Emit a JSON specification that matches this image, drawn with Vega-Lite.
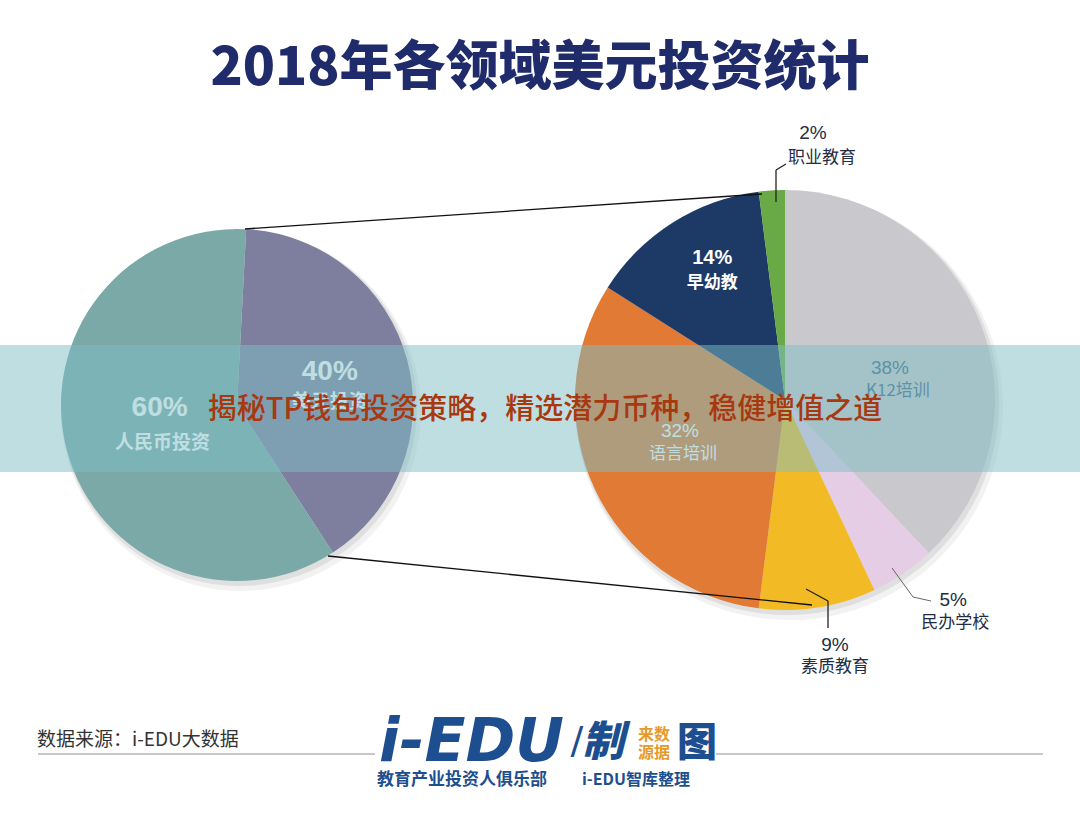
{
  "$schema": "https://vega.github.io/schema/vega-lite/v6.json",
  "width": 1080,
  "height": 819,
  "autosize": {"type": "fit", "contains": "padding"},
  "padding": 0,
  "background": "#ffffff",
  "config": {"view": {"stroke": null}, "font": "Noto Sans CJK SC"},
  "title": {
    "text": "2018年各领域美元投资统计",
    "fontSize": 53,
    "fontWeight": 900,
    "color": "#1f2b6b",
    "font": "Noto Sans CJK SC",
    "anchor": "middle",
    "offset": -149,
    "baseline": "bottom"
  },
  "datasets": {
    "总体": [
      {"组": "总体", "类别": "美元投资", "占比": 0.40, "序号": 1},
      {"组": "总体", "类别": "人民币投资", "占比": 0.60, "序号": 2}
    ],
    "细分": [
      {"组": "细分", "类别": "K12培训", "占比": 0.38, "序号": 1},
      {"组": "细分", "类别": "民办学校", "占比": 0.05, "序号": 2},
      {"组": "细分", "类别": "素质教育", "占比": 0.09, "序号": 3},
      {"组": "细分", "类别": "语言培训", "占比": 0.32, "序号": 4},
      {"组": "细分", "类别": "早幼教", "占比": 0.14, "序号": 5},
      {"组": "细分", "类别": "职业教育", "占比": 0.02, "序号": 6}
    ]
  },
  "layer": [
    {
      "data": {"name": "总体"},
      "encoding": {
        "x": {"field": "组", "type": "nominal", "axis": null, "scale": {"type": "point", "domain": ["总体", "细分"], "range": [237, 785], "padding": 0}},
        "y": {"field": "组", "type": "nominal", "axis": null, "scale": {"type": "point", "domain": ["总体", "细分"], "range": [405, 400], "padding": 0}},
        "theta": {"field": "占比", "type": "quantitative", "stack": true, "scale": {"range": [0.0524, 6.3356]}},
        "order": {"field": "序号", "type": "ordinal"},
        "color": {"field": "类别", "type": "nominal", "legend": null, "scale": {"domain": ["美元投资", "人民币投资", "K12培训", "民办学校", "素质教育", "语言培训", "早幼教", "职业教育"], "range": ["#7e7f9f", "#7aa9a8", "#c9c8cc", "#e6cde6", "#f2bb25", "#e07a35", "#1d3a66", "#6aaa46"]}}
      },
      "layer": [
        {"mark": {"type": "arc", "outerRadius": 180, "xOffset": 4, "yOffset": 6, "opacity": 0.05}, "encoding": {"color": {"value": "#000000"}}},
        {"mark": {"type": "arc", "outerRadius": 178, "xOffset": 2, "yOffset": 3, "opacity": 0.08}, "encoding": {"color": {"value": "#000000"}}},
        {"mark": {"type": "arc", "outerRadius": 176}},
        {"mark": {"type": "text", "radius": 77, "dx": -3, "dy": -17, "fontSize": 28, "fontWeight": "bold", "font": "Liberation Sans"},
         "encoding": {"text": {"condition": {"test": "datum['类别'] === '人民币投资'", "field": "占比", "type": "quantitative", "format": ".0%"}, "value": ""}, "color": {"value": "#ffffff"}}},
        {"mark": {"type": "text", "radius": 77, "dx": 0, "dy": 18, "fontSize": 19, "fontWeight": "bold"},
         "encoding": {"text": {"condition": {"test": "datum['类别'] === '人民币投资'", "field": "类别", "type": "nominal"}, "value": ""}, "color": {"value": "#ffffff"}}},
        {"mark": {"type": "text", "radius": 95, "dx": 1, "dy": -8, "fontSize": 28, "fontWeight": "bold", "font": "Liberation Sans"},
         "encoding": {"text": {"condition": {"test": "datum['类别'] === '美元投资'", "field": "占比", "type": "quantitative", "format": ".0%"}, "value": ""}, "color": {"value": "#ffffff"}}},
        {"mark": {"type": "text", "radius": 95, "dx": 1, "dy": 22, "fontSize": 19, "fontWeight": "bold"},
         "encoding": {"text": {"condition": {"test": "datum['类别'] === '美元投资'", "field": "类别", "type": "nominal"}, "value": ""}, "color": {"value": "#ffffff"}}}
      ]
    },
    {
      "data": {"name": "细分"},
      "encoding": {
        "x": {"field": "组", "type": "nominal", "axis": null, "scale": {"type": "point", "domain": ["总体", "细分"], "range": [237, 785], "padding": 0}},
        "y": {"field": "组", "type": "nominal", "axis": null, "scale": {"type": "point", "domain": ["总体", "细分"], "range": [405, 400], "padding": 0}},
        "theta": {"field": "占比", "type": "quantitative", "stack": true, "scale": {"range": [0, 6.2832]}},
        "order": {"field": "序号", "type": "ordinal"},
        "color": {"field": "类别", "type": "nominal", "legend": null}
      },
      "layer": [
        {"mark": {"type": "arc", "outerRadius": 214, "xOffset": 4, "yOffset": 6, "opacity": 0.05}, "encoding": {"color": {"value": "#000000"}}},
        {"mark": {"type": "arc", "outerRadius": 212, "xOffset": 2, "yOffset": 3, "opacity": 0.08}, "encoding": {"color": {"value": "#000000"}}},
        {"mark": {"type": "arc", "outerRadius": 210}},
        {"mark": {"type": "text", "radius": 115, "dx": -2, "dy": 10, "fontSize": 19, "font": "Liberation Sans"},
         "encoding": {"text": {"condition": {"test": "datum['类别'] === 'K12培训'", "field": "占比", "type": "quantitative", "format": ".0%"}, "value": ""}, "color": {"value": "#3d6585"}}},
        {"mark": {"type": "text", "radius": 115, "dx": 6, "dy": 33, "fontSize": 17},
         "encoding": {"text": {"condition": {"test": "datum['类别'] === 'K12培训'", "field": "类别", "type": "nominal"}, "value": ""}, "color": {"value": "#3d6585"}}},
        {"mark": {"type": "text", "radius": 115, "dx": -1, "dy": -18, "fontSize": 19, "font": "Liberation Sans"},
         "encoding": {"text": {"condition": {"test": "datum['类别'] === '语言培训'", "field": "占比", "type": "quantitative", "format": ".0%"}, "value": ""}, "color": {"value": "#ffffff"}}},
        {"mark": {"type": "text", "radius": 115, "dx": 2, "dy": 5, "fontSize": 17},
         "encoding": {"text": {"condition": {"test": "datum['类别'] === '语言培训'", "field": "类别", "type": "nominal"}, "value": ""}, "color": {"value": "#ffffff"}}},
        {"mark": {"type": "text", "radius": 149, "dx": 7, "dy": -16, "fontSize": 20, "fontWeight": "bold", "font": "Liberation Sans"},
         "encoding": {"text": {"condition": {"test": "datum['类别'] === '早幼教'", "field": "占比", "type": "quantitative", "format": ".0%"}, "value": ""}, "color": {"value": "#ffffff"}}},
        {"mark": {"type": "text", "radius": 149, "dx": 7, "dy": 9, "fontSize": 17, "fontWeight": "bold"},
         "encoding": {"text": {"condition": {"test": "datum['类别'] === '早幼教'", "field": "类别", "type": "nominal"}, "value": ""}, "color": {"value": "#ffffff"}}},
        {"mark": {"type": "text", "radius": 240, "dx": 43, "dy": -27, "fontSize": 19, "font": "Liberation Sans"},
         "encoding": {"text": {"condition": {"test": "datum['类别'] === '职业教育'", "field": "占比", "type": "quantitative", "format": ".0%"}, "value": ""}, "color": {"value": "#222d45"}}},
        {"mark": {"type": "text", "radius": 240, "dx": 52, "dy": -2, "fontSize": 17},
         "encoding": {"text": {"condition": {"test": "datum['类别'] === '职业教育'", "field": "类别", "type": "nominal"}, "value": ""}, "color": {"value": "#222d45"}}},
        {"mark": {"type": "text", "radius": 260, "dx": 22, "dy": -15, "fontSize": 19, "font": "Liberation Sans"},
         "encoding": {"text": {"condition": {"test": "datum['类别'] === '民办学校'", "field": "占比", "type": "quantitative", "format": ".0%"}, "value": ""}, "color": {"value": "#222d45"}}},
        {"mark": {"type": "text", "radius": 260, "dx": 24, "dy": 8, "fontSize": 17},
         "encoding": {"text": {"condition": {"test": "datum['类别'] === '民办学校'", "field": "类别", "type": "nominal"}, "value": ""}, "color": {"value": "#222d45"}}},
        {"mark": {"type": "text", "radius": 255, "dx": 10, "dy": -7, "fontSize": 19, "font": "Liberation Sans"},
         "encoding": {"text": {"condition": {"test": "datum['类别'] === '素质教育'", "field": "占比", "type": "quantitative", "format": ".0%"}, "value": ""}, "color": {"value": "#222d45"}}},
        {"mark": {"type": "text", "radius": 255, "dx": 10, "dy": 15, "fontSize": 17},
         "encoding": {"text": {"condition": {"test": "datum['类别'] === '素质教育'", "field": "类别", "type": "nominal"}, "value": ""}, "color": {"value": "#222d45"}}}
      ]
    },
    {"data": {"values": [{}]}, "mark": {"type": "rule", "color": "#111111", "strokeWidth": 1.3}, "encoding": {"x": {"value": 245}, "y": {"value": 229}, "x2": {"value": 762}, "y2": {"value": 194}}},
    {"data": {"values": [{}]}, "mark": {"type": "rule", "color": "#111111", "strokeWidth": 1.3}, "encoding": {"x": {"value": 328}, "y": {"value": 556}, "x2": {"value": 812}, "y2": {"value": 605}}},
    {"data": {"values": [{}]}, "mark": {"type": "rule", "color": "#222222", "strokeWidth": 1.3}, "encoding": {"x": {"value": 776}, "y": {"value": 202}, "x2": {"value": 776}, "y2": {"value": 170}}},
    {"data": {"values": [{}]}, "mark": {"type": "rule", "color": "#222222", "strokeWidth": 1.3}, "encoding": {"x": {"value": 776}, "y": {"value": 170}, "x2": {"value": 786}, "y2": {"value": 164}}},
    {"data": {"values": [{}]}, "mark": {"type": "rule", "color": "#666666", "strokeWidth": 1}, "encoding": {"x": {"value": 892}, "y": {"value": 568}, "x2": {"value": 913}, "y2": {"value": 597}}},
    {"data": {"values": [{}]}, "mark": {"type": "rule", "color": "#666666", "strokeWidth": 1}, "encoding": {"x": {"value": 913}, "y": {"value": 597}, "x2": {"value": 931}, "y2": {"value": 601}}},
    {"data": {"values": [{}]}, "mark": {"type": "rule", "color": "#222222", "strokeWidth": 1.3}, "encoding": {"x": {"value": 806}, "y": {"value": 589}, "x2": {"value": 828}, "y2": {"value": 601}}},
    {"data": {"values": [{}]}, "mark": {"type": "rule", "color": "#222222", "strokeWidth": 1.3}, "encoding": {"x": {"value": 828}, "y": {"value": 601}, "x2": {"value": 828}, "y2": {"value": 628}}},
    {"data": {"values": [{}]}, "mark": {"type": "rect", "x": 0, "x2": 1080, "y": 345, "y2": 472, "color": "#7ebec6", "opacity": 0.5}, "encoding": {}},
    {"data": {"values": [{}]}, "mark": {"type": "text", "text": "揭秘TP钱包投资策略，精选潜力币种，稳健增值之道", "x": 545, "y": 410, "fontSize": 29, "fontWeight": 500, "color": "#a8380f", "font": "Noto Sans CJK SC", "align": "center", "baseline": "middle"}, "encoding": {}},
    {"data": {"values": [{}]}, "mark": {"type": "text", "text": "数据来源：i-EDU大数据", "x": 37, "y": 740, "fontSize": 19, "color": "#333333", "font": "Noto Sans CJK SC", "align": "left", "baseline": "middle"}, "encoding": {}},
    {"data": {"values": [{}]}, "mark": {"type": "rule", "color": "#c8c8c8", "strokeWidth": 2}, "encoding": {"x": {"value": 38}, "y": {"value": 754}, "x2": {"value": 375}, "y2": {"value": 754}}},
    {"data": {"values": [{}]}, "mark": {"type": "rule", "color": "#c8c8c8", "strokeWidth": 2}, "encoding": {"x": {"value": 716}, "y": {"value": 754}, "x2": {"value": 1043}, "y2": {"value": 754}}},
    {"data": {"values": [{}]}, "mark": {"type": "text", "text": "i-EDU", "x": 379, "y": 743, "fontSize": 60, "fontWeight": "bold", "fontStyle": "italic", "color": "#1d4e8f", "font": "DejaVu Sans", "align": "left", "baseline": "middle"}, "encoding": {}},
    {"data": {"values": [{}]}, "mark": {"type": "text", "text": "/", "x": 577, "y": 742, "fontSize": 38, "color": "#1d4e8f", "font": "DejaVu Sans", "align": "center", "baseline": "middle"}, "encoding": {}},
    {"data": {"values": [{}]}, "mark": {"type": "text", "text": "制", "x": 603, "y": 743, "fontSize": 42, "fontWeight": 900, "fontStyle": "italic", "color": "#1d4e8f", "font": "Noto Sans CJK SC", "align": "center", "baseline": "middle"}, "encoding": {}},
    {"data": {"values": [{}]}, "mark": {"type": "text", "text": "来数", "x": 654, "y": 735, "fontSize": 16, "fontWeight": "bold", "color": "#e59a2b", "font": "Noto Sans CJK SC", "align": "center", "baseline": "middle"}, "encoding": {}},
    {"data": {"values": [{}]}, "mark": {"type": "text", "text": "源据", "x": 654, "y": 753, "fontSize": 16, "fontWeight": "bold", "color": "#e59a2b", "font": "Noto Sans CJK SC", "align": "center", "baseline": "middle"}, "encoding": {}},
    {"data": {"values": [{}]}, "mark": {"type": "text", "text": "图", "x": 697, "y": 744, "fontSize": 40, "fontWeight": 900, "color": "#1d4e8f", "font": "Noto Sans CJK SC", "align": "center", "baseline": "middle"}, "encoding": {}},
    {"data": {"values": [{}]}, "mark": {"type": "text", "text": "教育产业投资人俱乐部", "x": 377, "y": 780, "fontSize": 17, "fontWeight": "bold", "color": "#1d4e8f", "font": "Noto Sans CJK SC", "align": "left", "baseline": "middle"}, "encoding": {}},
    {"data": {"values": [{}]}, "mark": {"type": "text", "text": "i-EDU智库整理", "x": 582, "y": 780, "fontSize": 16, "fontWeight": "bold", "color": "#1d4e8f", "font": "Noto Sans CJK SC", "align": "left", "baseline": "middle"}, "encoding": {}}
  ],
  "resolve": {"scale": {"theta": "independent"}}
}
